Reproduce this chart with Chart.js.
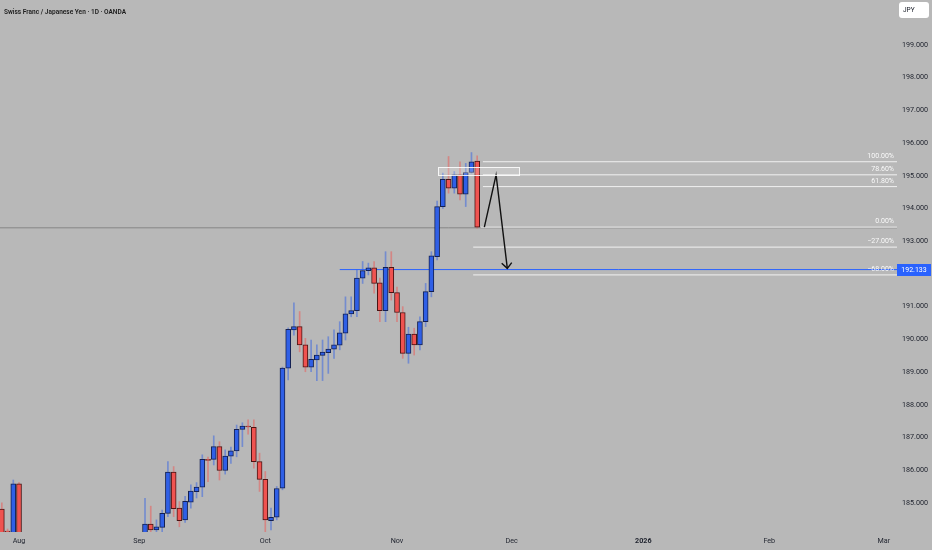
<!DOCTYPE html>
<html><head><meta charset="utf-8">
<script src="https://cdn.jsdelivr.net/npm/chart.js@4.4.1/dist/chart.umd.min.js"></script>
<style>html,body{margin:0;padding:0;background:#b8b8b8;}#wrap{width:932px;height:550px;position:relative;}</style>
</head><body><div id="wrap"><canvas id="c" width="932" height="550"></canvas></div>
<script>
const chartTitle = 'Swiss Franc / Japanese Yen · 1D · OANDA';
const currencyLabel = 'JPY';
// bar index: 0 = 1 Aug 2025, one step per trading day
const dayIndex = [-3,-2,-1,0,22,23,24,25,26,27,28,29,30,31,32,33,34,35,36,37,38,39,40,41,42,43,44,45,46,47,48,49,50,51,52,53,54,55,56,57,58,59,60,61,62,63,64,65,66,67,68,69,70,71,72,73,74,75,76,77,78,79,80];
const opens  = [184.81,184.14,183.90,185.58,183.95,184.35,184.17,184.25,184.68,185.94,184.84,184.48,185.02,185.34,185.48,186.33,186.33,186.72,185.99,186.43,186.59,187.25,187.35,187.31,186.26,185.72,184.46,184.56,185.45,189.12,190.29,190.39,189.83,189.15,189.37,189.51,189.59,189.70,189.82,190.19,190.78,190.88,191.87,192.10,192.19,191.73,190.88,192.20,191.43,190.82,189.57,190.16,189.83,190.54,191.46,192.53,194.06,194.89,194.62,195.03,194.44,195.10,195.45];
const highs  = [185.00,184.20,185.70,185.62,185.14,184.90,184.48,184.78,186.26,186.11,185.04,185.20,185.55,185.62,186.47,186.40,187.05,186.87,186.62,186.71,187.38,187.45,187.54,187.54,186.52,185.96,184.84,185.50,189.15,190.35,191.12,190.85,190.03,189.98,189.83,189.98,190.08,190.29,190.54,191.30,191.30,192.12,192.38,192.33,192.38,191.87,192.68,192.68,191.60,191.00,190.37,190.34,190.69,191.71,192.68,194.23,195.08,195.59,195.13,195.43,195.38,195.71,195.61];
const lows   = [183.80,183.90,183.80,183.40,183.90,184.00,184.05,184.12,184.58,184.58,184.27,184.40,184.84,185.15,185.19,185.65,186.16,185.70,185.88,186.21,186.41,186.72,187.10,186.06,185.35,184.12,184.17,184.48,185.40,188.76,190.13,189.62,189.01,189.01,188.74,188.74,188.96,189.42,189.68,189.98,190.69,190.69,191.71,191.97,191.41,190.54,190.54,191.20,190.54,189.42,189.27,189.52,189.68,190.39,191.30,192.43,194.00,194.47,194.47,194.26,194.06,195.08,193.40];
const closes = [183.95,184.10,185.58,183.55,184.35,184.17,184.27,184.68,185.94,184.82,184.46,185.05,185.36,185.48,186.33,186.30,186.72,185.99,186.43,186.59,187.25,187.35,187.32,186.26,185.72,184.48,184.56,185.44,189.12,190.31,190.39,189.83,189.15,189.39,189.52,189.61,189.70,189.83,190.20,190.78,190.88,191.87,192.10,192.19,191.71,190.88,192.20,191.43,190.82,189.57,190.16,189.83,190.54,191.46,192.55,194.06,194.89,194.62,195.03,194.44,195.10,195.43,193.43];

const monthTickIndex  = [0,21,43,66,86,109,131,151];
const monthTickLabels = ['Aug','Sep','Oct','Nov','Dec','2026','Feb','Mar'];
const priceTicks = [185,186,187,188,189,190,191,193,194,195,196,197,198,199];

const fibLevels = [195.43,195.03,194.67,193.43,192.82,191.97];
const fibLabels = ['100.00%','78.60%','61.80%','0.00%','\u221227.00%','\u221268.00%'];
const fibStart  = [81.0,81.0,81.0,80.6,79.3,79.3];
const refLineLevel = 193.41;
const targetLevel = 192.133;
const targetStart = 56.0;
const zoneX = [73.2, 87.3];
const zoneY = [195.03, 195.26];
const arrowPathX = [81.25, 83.3, 85.26];
const arrowPathY = [193.43, 195.03, 192.17];
const arrowHeadX = [84.28, 85.26, 86.03];
const arrowHeadY = [192.33, 192.17, 192.345];

const X_MIN = -3.32, X_MAX = 153.3, Y_MIN = 184.11, Y_MAX = 200.375;

const UP = '#2f5fe6', DOWN = '#ef5350';
const isUp = k => closes[k] >= opens[k];

const wickData = dayIndex.map((d,k)=>({x:d, y:[lows[k], highs[k]]}));
const bodyData = dayIndex.map((d,k)=>({x:d, y:[opens[k], closes[k]]}));

const lineDs = (xs, ys, color, width, order) => ({
  type:'line', data: xs.map((x,i)=>({x, y: ys[i]})), borderColor: color, borderWidth: width,
  pointRadius: 0, fill: false, tension: 0, order
});

const datasets = [
  {type:'bar', data: wickData, grouped:false, barThickness:1, borderWidth:0,
   backgroundColor: dayIndex.map((d,k)=> isUp(k) ? 'rgba(47,95,230,0.5)' : 'rgba(239,83,80,0.5)'), order: 4},
  {type:'bar', data: bodyData, grouped:false, barThickness:5, borderWidth:1, borderSkipped:false,
   backgroundColor: dayIndex.map((d,k)=> isUp(k) ? UP : DOWN),
   borderColor: dayIndex.map((d,k)=> isUp(k) ? '#142050' : '#4a1414'), order: 3},
  lineDs([X_MIN, X_MAX], [refLineLevel, refLineLevel], '#858585', 1, 6),
  lineDs([targetStart, X_MAX], [targetLevel, targetLevel], '#2962ff', 1, 6),
  ...fibLevels.map((lv,i)=> lineDs([fibStart[i], X_MAX], [lv, lv], 'rgba(255,255,255,0.8)', 1, 5)),
  lineDs(arrowPathX, arrowPathY, '#111111', 1.4, 1),
  lineDs(arrowHeadX, arrowHeadY, '#111111', 1.4, 1)
];

const overlay = {
  id:'overlay',
  afterDatasetsDraw(chart){
    const c = chart.ctx, xs = chart.scales.x, ys = chart.scales.y, ca = chart.chartArea;
    c.save();
    const zx0 = xs.getPixelForValue(zoneX[0]), zx1 = xs.getPixelForValue(zoneX[1]);
    const zy0 = ys.getPixelForValue(zoneY[1]), zy1 = ys.getPixelForValue(zoneY[0]);
    c.fillStyle = 'rgba(255,255,255,0.22)';
    c.fillRect(zx0, zy0, zx1-zx0, zy1-zy0);
    c.strokeStyle = 'rgba(255,255,255,0.85)'; c.lineWidth = 1;
    c.strokeRect(Math.round(zx0)+0.5, Math.round(zy0)+0.5, Math.round(zx1-zx0), Math.round(zy1-zy0));
    c.font = '7px Roboto'; c.fillStyle = 'rgba(255,255,255,0.92)';
    c.textAlign = 'right'; c.textBaseline = 'alphabetic';
    fibLevels.forEach((lv,i)=>{ c.fillText(fibLabels[i], ca.right - 3, ys.getPixelForValue(lv) - 4); });
    c.restore();
  },
  afterDraw(chart){
    const c = chart.ctx, ys = chart.scales.y, ca = chart.chartArea;
    c.save();
    const ty = ys.getPixelForValue(targetLevel);
    c.fillStyle = '#2962ff';
    c.fillRect(ca.right, Math.round(ty) - 6, 34, 12);
    c.fillStyle = '#ffffff'; c.font = '7px Roboto'; c.textAlign = 'center'; c.textBaseline = 'middle';
    c.fillText(targetLevel.toFixed(3), ca.right + 17, Math.round(ty) + 0.5);
    c.fillStyle = '#ffffff';
    c.beginPath(); c.roundRect(899, 2, 30, 16, 3); c.fill();
    c.fillStyle = '#131722'; c.font = '6.5px Roboto'; c.textAlign = 'left'; c.textBaseline = 'middle';
    c.fillText(currencyLabel, 903, 10.5);
    c.fillStyle = '#1b1b1b'; c.font = '600 8px Roboto'; c.textAlign = 'left'; c.textBaseline = 'alphabetic';
    const w = c.measureText(chartTitle).width, target = 122;
    c.translate(4, 13.5); c.scale(Math.min(1, target / w), 1);
    c.fillText(chartTitle, 0, 0);
    c.restore();
  }
};

new Chart(document.getElementById('c'), {
  type: 'bar',
  data: { datasets },
  options: {
    responsive: false, animation: false, devicePixelRatio: 1,
    layout: { padding: 0 },
    plugins: { legend: {display:false}, tooltip: {enabled:false} },
    scales: {
      x: { type:'linear', min:X_MIN, max:X_MAX, offset:false,
           grid:{display:false, drawTicks:false}, border:{display:false},
           afterBuildTicks: s => { s.ticks = monthTickIndex.map(v=>({value:v})); },
           afterFit: s => { s.height = 18; s.paddingLeft = 0; s.paddingRight = 0; },
           ticks: { autoSkip:false, maxRotation:0, minRotation:0, padding:5, color:'#1e222d',
             font: ctx => ({family:'Roboto', size:7.2, weight: (ctx.tick && ctx.tick.value === 109) ? 'bold' : 'normal'}),
             callback: v => { const i = monthTickIndex.indexOf(v); return i >= 0 ? monthTickLabels[i] : ''; } } },
      y: { type:'linear', position:'right', min:Y_MIN, max:Y_MAX,
           grid:{display:false, drawTicks:false}, border:{display:false},
           afterBuildTicks: s => { s.ticks = priceTicks.map(v=>({value:v})); },
           afterFit: s => { s.width = 35; s.paddingTop = 0; s.paddingBottom = 0; },
           ticks: { padding:5, color:'#1e222d', font:{family:'Roboto', size:7.2}, callback: v => Number(v).toFixed(3) } }
    }
  },
  plugins: [overlay]
});
</script>
</body></html>
